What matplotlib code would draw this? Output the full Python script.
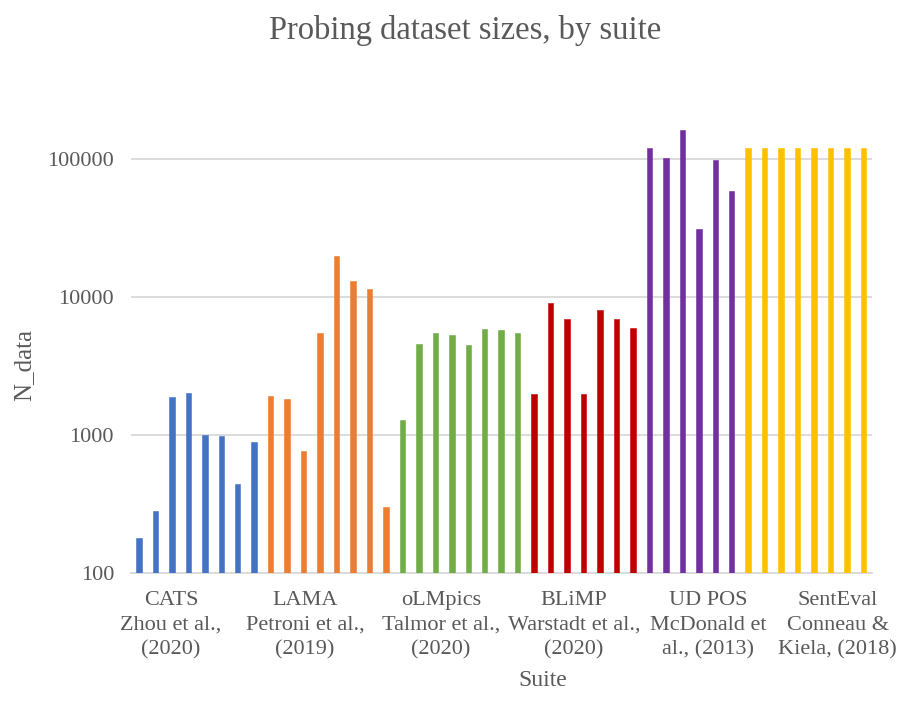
import matplotlib
matplotlib.use("Agg")
import matplotlib.pyplot as plt

# dataset sizes, one bar per dataset, grouped by suite
suites = ["CATS", "LAMA", "oLMpics", "BLiMP", "UD POS", "SentEval"]
suite_labels = [
    "CATS\nZhou et al.,\n(2020)",
    "LAMA\nPetroni et al.,\n(2019)",
    "oLMpics\nTalmor et al.,\n(2020)",
    "BLiMP\nWarstadt et al.,\n(2020)",
    "UD POS\nMcDonald et\nal., (2013)",
    "SentEval\nConneau &\nKiela, (2018)",
]
cats_n = [180, 280, 1880, 2020, 1005, 985, 440, 885]
lama_n = [1920, 1815, 766, 5460, 19700, 12900, 11400, 302]
olmpics_n = [1280, 4520, 5460, 5260, 4450, 5840, 5740, 5460]
blimp_n = [1980, 8960, 6900, 1980, 8010, 6900, 5970]
udpos_n = [119900, 101400, 160900, 30750, 97700, 58500]
senteval_n = [120000] * 8

suite_data = [cats_n, lama_n, olmpics_n, blimp_n, udpos_n, senteval_n]
colors = ["#4472C4", "#ED7D31", "#70AD47", "#C00000", "#7030A0", "#FFC000"]

plt.rcParams["font.family"] = ["Liberation Serif", "DejaVu Serif"]
txt = "#595959"
grid_c = "#D9D9D9"

fig = plt.figure(figsize=(9.02, 7.03), dpi=100)
ax = fig.add_axes([0.1449, 0.1849, 0.8215, 0.6834])

x0 = 0
for vals, col in zip(suite_data, colors):
    xs = list(range(x0, x0 + len(vals)))
    ax.bar(xs, vals, width=0.33, color=col, edgecolor=col, linewidth=0.4, zorder=3)
    x0 += len(vals)

ax.set_yscale("log")
ax.set_ylim(100, 300000)
ax.set_xlim(-0.5, x0 - 0.5)
ax.set_yticks([100, 1000, 10000, 100000])
ax.set_yticklabels(["100", "1000", "10000", "100000"])
ax.minorticks_off()
ax.yaxis.grid(True, color=grid_c, linewidth=1.3, zorder=0)

# suite labels sit at a fixed interval along the category axis
ax.set_xticks([1.94, 10.08, 18.34, 26.41, 34.55, 42.44])
ax.set_xticklabels(suite_labels, linespacing=1.4)

ax.tick_params(axis="both", length=0, labelsize=16, colors=txt)
ax.tick_params(axis="x", pad=13)
ax.tick_params(axis="y", pad=12)
for s in ["top", "right", "left"]:
    ax.spines[s].set_visible(False)
ax.spines["bottom"].set_color(grid_c)
ax.spines["bottom"].set_linewidth(1.3)

ax.set_ylabel("N_data", fontsize=18, color=txt)
ax.yaxis.set_label_coords((35 - 130.7) / 741, (573 - 365) / 480.4)
fig.text(543 / 902, 1 - 681 / 703, "Suite", fontsize=17, color=txt,
         ha="center", va="center")
fig.text(465 / 902, 1 - 30 / 703, "Probing dataset sizes, by suite",
         fontsize=23.5, color=txt, ha="center", va="center")

fig.savefig("out.png", dpi=100)
